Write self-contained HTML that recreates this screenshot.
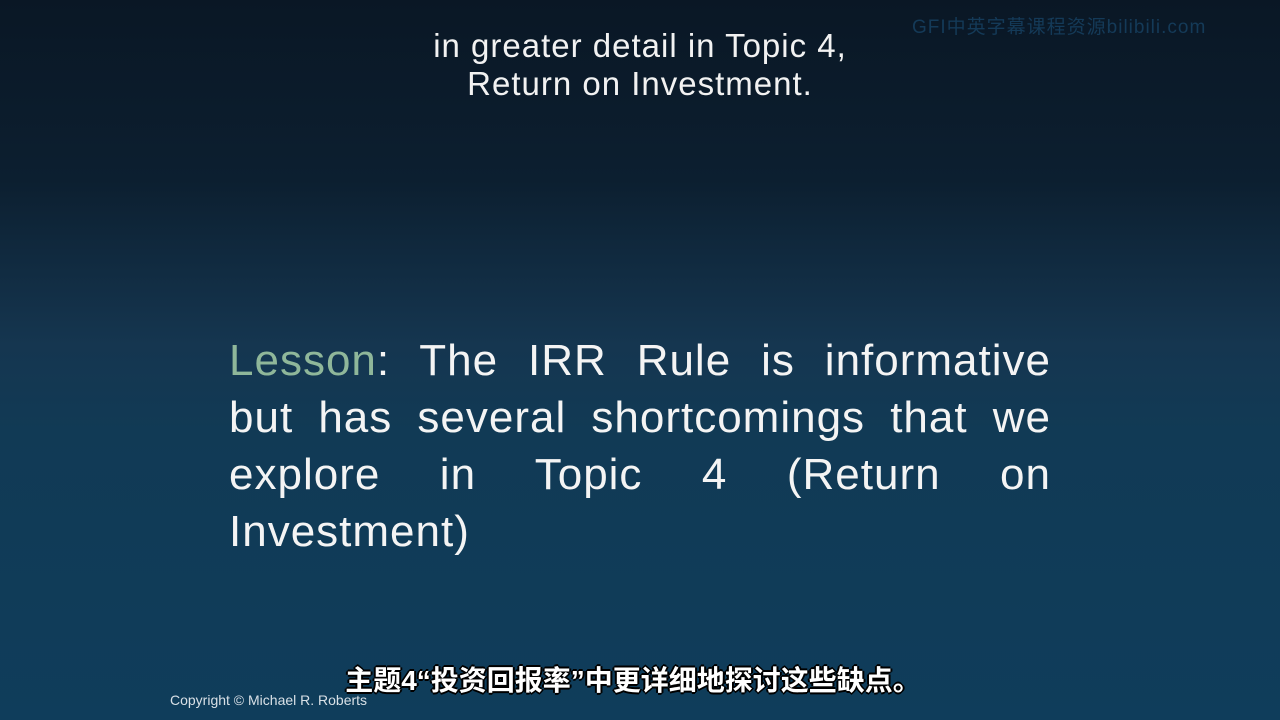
<!DOCTYPE html>
<html><head><meta charset="utf-8"><style>
html,body{margin:0;padding:0}
body{width:1280px;height:720px;overflow:hidden;position:relative;
background:linear-gradient(to bottom,#0a1725 0%,#0c1f30 25%,#153650 48%,#113a55 60%,#0f3d5b 100%);
font-family:"Liberation Sans",sans-serif;color:#fff}
.top{position:absolute;left:0;width:1280px;top:27px;text-align:center;font-size:33px;line-height:38px;color:#f2f2f2;letter-spacing:1px}
.main{position:absolute;left:229px;width:822px;top:332px;font-size:44px;line-height:57px;color:#f4f4f4;letter-spacing:1px}
.ln{text-align:justify;text-align-last:justify;white-space:nowrap}
.ln.last{text-align-last:left}
.lesson{color:#8fb79a}
.sub{position:absolute;left:0;width:1266px;top:659px;text-align:center;font-family:"Liberation Sans","Noto Sans CJK SC",sans-serif;font-size:28px;font-weight:bold;color:#fff;text-shadow:-2px 0 #000,2px 0 #000,0 -2px #000,0 2px #000,1px 1px #000,-1px -1px #000}
.copy{position:absolute;left:170px;top:692px;font-size:14px;color:#d8e0e6}
.wm{position:absolute;left:912px;top:12px;font-family:"Liberation Sans","Noto Sans CJK SC",sans-serif;font-size:19px;color:#143a58;letter-spacing:1px}
</style></head><body>
<div class="wm">GFI中英字幕课程资源bilibili.com</div>
<div class="top">in greater detail in Topic 4,<br>Return on Investment.</div>
<div class="main">
<div class="ln"><span class="lesson">Lesson</span>: The IRR Rule is informative</div>
<div class="ln">but has several shortcomings that we</div>
<div class="ln">explore in Topic 4 (Return on</div>
<div class="ln last">Investment)</div>
</div>
<div class="sub">主题4“投资回报率”中更详细地探讨这些缺点。</div>
<div class="copy">Copyright © Michael R. Roberts</div>
</body></html>
